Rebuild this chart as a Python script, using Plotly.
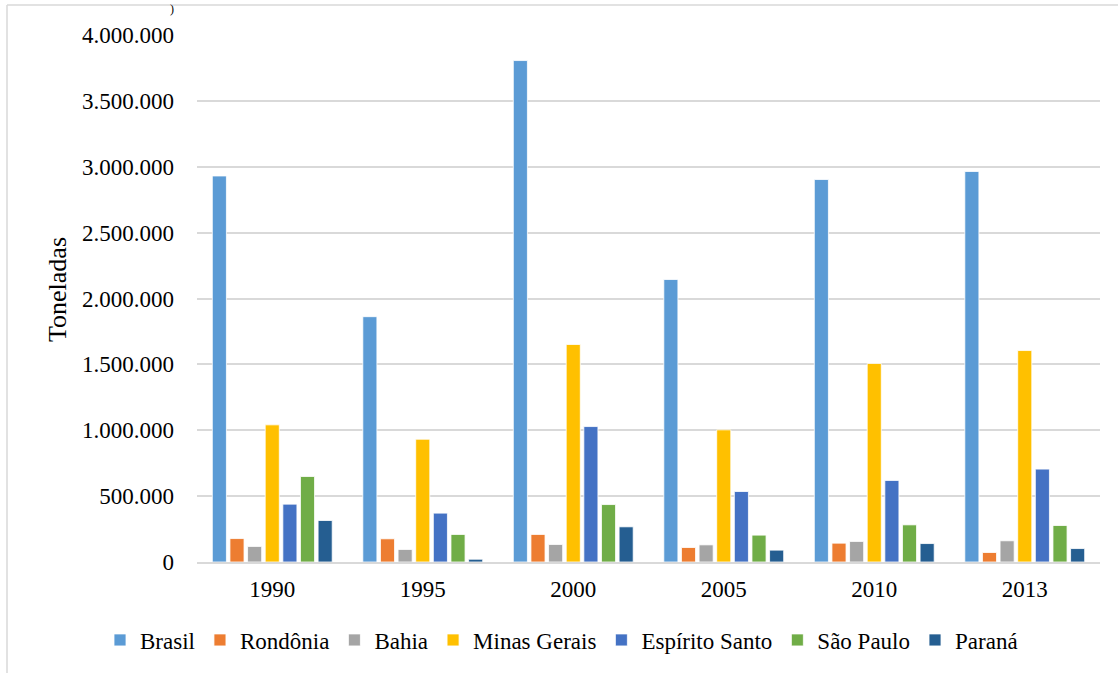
import plotly.graph_objects as go

# Produção por ano (toneladas)
anos = ["1990", "1995", "2000", "2005", "2010", "2013"]

brasil = [2930000, 1862000, 3806000, 2144000, 2903000, 2964000]
rondonia = [178000, 176000, 209000, 110000, 143000, 72000]
bahia = [118000, 95000, 133000, 130000, 156000, 161000]
minas_gerais = [1041000, 932000, 1651000, 1003000, 1507000, 1605000]
espirito_santo = [439000, 371000, 1028000, 535000, 619000, 705000]
sao_paulo = [649000, 209000, 436000, 204000, 282000, 277000]
parana = [315000, 21000, 267000, 90000, 140000, 102000]

series = [
    ("Brasil", brasil, "#5B9BD5"),
    ("Rondônia", rondonia, "#ED7D31"),
    ("Bahia", bahia, "#A5A5A5"),
    ("Minas Gerais", minas_gerais, "#FFC000"),
    ("Espírito Santo", espirito_santo, "#4472C4"),
    ("São Paulo", sao_paulo, "#70AD47"),
    ("Paraná", parana, "#255E91"),
]

y_ticks = [0, 500000, 1000000, 1500000, 2000000, 2500000, 3000000, 3500000, 4000000]
y_tick_labels = ["0", "500.000", "1.000.000", "1.500.000", "2.000.000",
                 "2.500.000", "3.000.000", "3.500.000", "4.000.000"]

FONT = "Liberation Serif"

fig = go.Figure()
for nome, valores, cor in series:
    fig.add_trace(go.Bar(
        name=nome, x=anos, y=valores,
        marker=dict(color=cor, line=dict(color="white", width=0.8)),
    ))

W, H = 1118, 673
L, R, T, B = 197, 18, 35, 111
pw, ph = W - L - R, H - T - B

def px_x(p):
    return (p - L) / pw

def px_y(p):
    return (H - B - p) / ph

fig.update_layout(
    width=W, height=H,
    margin=dict(l=L, r=R, t=T, b=B),
    paper_bgcolor="white", plot_bgcolor="white",
    barmode="group", bargap=0.18, bargroupgap=0.2,
    font=dict(family=FONT, color="black"),
    xaxis=dict(
        type="category", showgrid=False, ticks="", showline=True,
        linecolor="#d9d9d9", linewidth=1.5,
        tickfont=dict(size=23, family=FONT, color="black"), ticklabelstandoff=6,
    ),
    yaxis=dict(
        range=[0, 4000000], tickvals=y_ticks, ticktext=y_tick_labels,
        showgrid=True, gridcolor="#d9d9d9", gridwidth=1.5,
        zeroline=False, showline=False, ticks="",
        tickfont=dict(size=23, family=FONT, color="black"), ticklabelstandoff=22,
    ),
    legend=dict(
        orientation="h", x=px_x(100), xanchor="left",
        y=px_y(640), yanchor="middle",
        font=dict(size=23, family=FONT, color="black"), itemwidth=30,
        traceorder="normal",
    ),
    shapes=[
        dict(type="line", xref="paper", yref="paper",
             x0=px_x(7), x1=px_x(7), y0=px_y(5), y1=px_y(H + 5),
             line=dict(color="#d9d9d9", width=1.5)),
        dict(type="line", xref="paper", yref="paper",
             x0=px_x(7), x1=px_x(W + 5), y0=px_y(5), y1=px_y(5),
             line=dict(color="#d9d9d9", width=1.5)),
    ],
    annotations=[
        dict(text="Toneladas", xref="paper", yref="paper",
             x=px_x(57), y=px_y(290), textangle=-90,
             xanchor="center", yanchor="middle", showarrow=False,
             font=dict(size=26, family=FONT, color="black")),
        dict(text=")", xref="paper", yref="paper", x=px_x(172), y=px_y(0),
             xanchor="center", yanchor="top", showarrow=False,
             font=dict(size=12, family=FONT, color="black")),
    ],
)

fig.write_html("out.html")
